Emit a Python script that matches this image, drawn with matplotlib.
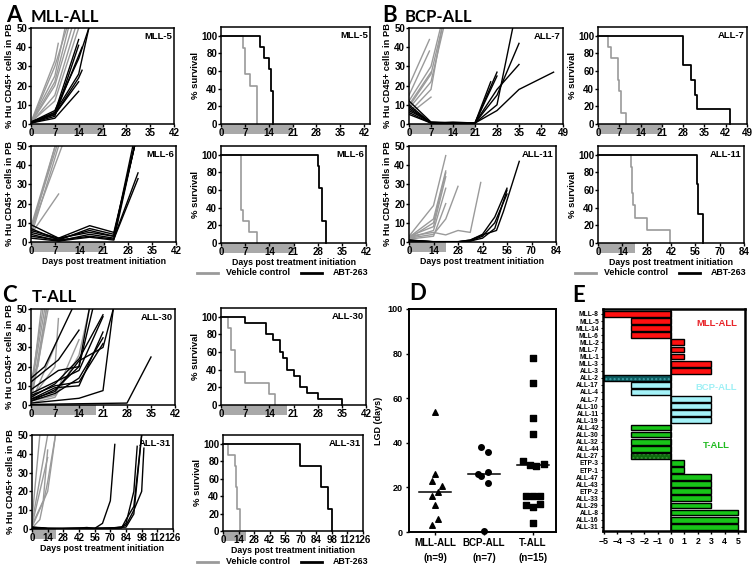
import matplotlib
matplotlib.use("Agg")
import matplotlib.pyplot as plt
import matplotlib.transforms as mtransforms
from matplotlib.lines import Line2D
from matplotlib.patches import Rectangle

W, H = 754, 570
GRAY = "#9a9a9a"
BAND = "#a9a9a9"

# ---------------- growth curves (% Hu CD45+ in PB), (days, values) ----------------
MLL5_VEH = [([0, 7, 10], [1, 25, 50]), ([0, 7, 10.5], [0.5, 30, 50]), ([0, 7, 8], [1, 33, 42]),
            ([0, 7, 12], [0.5, 20, 50]), ([0, 7, 13], [0.5, 15, 50]), ([0, 7, 14], [1, 12, 50]),
            ([0, 7, 11], [0.5, 22, 50])]
MLL5_ABT = [([0, 7, 14], [0.5, 3, 17]), ([0, 7, 14, 15], [1, 5, 24, 28]), ([0, 7, 14, 17], [0.5, 6, 26, 50]),
            ([0, 7, 14, 17], [1, 7, 34, 50]), ([0, 7, 14], [0.5, 4, 41]), ([0, 7, 14], [1, 6, 44]),
            ([0, 7, 14], [0.5, 5, 22]), ([0, 7, 15], [1, 5, 40])]
MLL6_VEH = [([0, 7], [5, 50]), ([0, 7], [8, 50]), ([0, 8], [3, 50]), ([0, 9], [6, 50]),
            ([0, 8], [4, 25]), ([0, 7.5], [7, 50])]
MLL6_ABT = [([0, 8, 17, 24, 30], [9, 2, 8.5, 5, 50]), ([0, 8, 17, 24, 30], [7, 1, 7, 4, 50]),
            ([0, 8, 17, 24, 29.5], [5, 1.5, 6, 3, 50]), ([0, 8, 17, 24, 31], [4, 0.5, 4, 2, 36]),
            ([0, 8, 17, 24, 31], [3, 1, 3, 1.5, 33]), ([0, 8, 17, 24, 30], [2, 0.5, 2.5, 1, 50]),
            ([0, 8, 17, 24, 30], [6, 2, 5, 3, 50])]
ALL7_VEH = [([0, 6.5], [20, 44]), ([0, 6.5], [15, 38]), ([0, 7, 10], [12, 30, 50]),
            ([0, 7, 10.5], [9, 26, 50]), ([0, 7, 11], [8, 22, 50]), ([0, 7], [10, 27]),
            ([0, 7, 10.5], [6, 18, 50]), ([0, 7], [5, 14])]
ALL7_ABT = [([0, 7, 14, 21, 28], [12, 1, 0.5, 0.5, 27]), ([0, 7, 14, 21, 28], [10, 0.5, 1, 0.5, 25]),
            ([0, 7, 14, 21, 28, 33], [8, 0.5, 0.5, 0.5, 10, 50]),
            ([0, 7, 14, 21, 28, 35], [7, 1, 0.5, 0.5, 15, 42]),
            ([0, 7, 14, 21, 28, 35], [6, 0.5, 0.5, 0.5, 18, 31]),
            ([0, 7, 14, 21, 28, 35, 46], [5, 0.5, 0.5, 0.5, 7, 18, 27]),
            ([0, 7, 14, 21, 26], [9, 0.5, 0.5, 0.5, 22])]
ALL11_VEH = [([0, 14, 21], [3, 19, 45]), ([0, 14, 21], [2.5, 12, 37]), ([0, 14, 21], [2, 10, 36]),
             ([0, 14, 21], [3, 8, 34]), ([0, 14, 21], [2, 6, 28]), ([0, 14, 21, 28], [2, 4, 12, 29]),
             ([0, 14, 21, 28, 35, 41], [3, 5, 3.7, 6, 5, 31]), ([0, 14, 21], [1.5, 3, 20])]
ALL11_ABT = [([0, 14, 28, 35, 42, 49, 56], [1, 0.2, 0.2, 1, 4, 13, 28]),
             ([0, 14, 28, 35, 42, 49, 56], [0.8, 0.1, 0.1, 0.5, 3, 10, 25]),
             ([0, 14, 28, 35, 43, 50, 54, 63], [1, 0.1, 0.1, 1, 4, 6, 16, 42]),
             ([0, 14, 28, 35, 42, 49, 56], [0.5, 0.1, 0.1, 0.5, 2, 7, 27])]
ALL30_VEH = [([0, 3], [5, 50]), ([0, 4], [8, 50]), ([0, 4.5], [3, 50]), ([0, 3.5], [10, 50]),
             ([0, 5], [2, 50]), ([0, 7, 8], [3, 20, 45]), ([0, 8], [1, 35]), ([0, 7, 14], [2, 5, 34]),
             ([0, 7, 14, 17], [1, 4, 26, 50]), ([0, 2, 4.5], [15, 20, 50])]
ALL30_ABT = [([0, 8, 14], [12, 23.5, 39]), ([0, 4, 12], [14, 20, 50]), ([0, 8, 14, 17], [8, 18, 20, 50]),
             ([0, 7, 14, 21], [5, 10, 12, 32]), ([0, 7, 14, 21], [3, 9, 10, 38]),
             ([0, 7, 14, 21], [4, 11, 24, 47]), ([0, 7, 14, 18], [2, 8, 20, 50]),
             ([0, 7, 14, 21, 24], [3, 7, 23, 30, 50]), ([0, 14, 21, 24], [1, 3.5, 7.5, 50]),
             ([0, 28, 35], [0.3, 1, 25]), ([0, 7, 14, 21], [6, 12, 18, 46]), ([0, 7, 14, 21], [2, 6, 14, 35])]
ALL31_VEH = [([0, 7], [5, 50]), ([0, 14], [3, 50]), ([0, 10, 14], [2, 15, 42]), ([0, 14, 21], [1, 20, 50]),
             ([0, 7, 14, 21], [0.5, 5, 25, 50]), ([0, 14], [2, 38])]
ALL31_ABT = [([0, 14, 28, 42, 49, 56, 63, 70, 74], [1, 0.5, 0.3, 0.5, 0.8, 0.3, 3, 15, 45]),
             ([0, 14, 42, 56, 70, 80, 84, 91, 94], [0.8, 0.2, 0.5, 0.5, 0.5, 1, 3, 20, 44]),
             ([0, 14, 42, 56, 70, 80, 84, 91, 98], [0.5, 0.2, 0.2, 0.2, 0.3, 0.5, 5, 12, 50]),
             ([0, 14, 42, 56, 70, 80, 84, 91, 98, 100], [0.5, 0.1, 0.3, 0.3, 0.3, 1, 2, 10, 20, 43]),
             ([0, 14, 56, 84, 91, 98], [1, 0.2, 0.2, 1, 8, 50])]

# ---------------- survival (Kaplan-Meier steps), (times, % survival) ----------------
MLL5_SURV_VEH = ([0, 6.5, 7, 8.5, 10.5], [100, 85.7, 57.1, 42.9, 0])
MLL5_SURV_ABT = ([0, 11.5, 12.5, 14, 14.8, 15.3], [100, 87.5, 75, 62.5, 37.5, 0])
MLL6_SURV_VEH = ([0, 5.7, 6.3, 8, 10.3], [100, 37.5, 25, 12.5, 0])
MLL6_SURV_ABT = ([0, 28, 28.5, 29.3, 30.4], [100, 87.5, 62.5, 25, 0])
ALL7_SURV_VEH = ([0, 3.3, 4.4, 6.6, 7.0, 7.4, 9.3], [100, 87.5, 75, 50, 37.5, 12.5, 0])
ALL7_SURV_ABT = ([0, 28, 30.5, 32, 32.5, 43.5], [100, 66.7, 50, 33.3, 16.7, 0])
ALL11_SURV_VEH = ([0, 18.7, 19.3, 19.8, 20.3, 21.5, 28, 41.3], [100, 85.7, 71.4, 57.1, 42.9, 28.6, 14.3, 0])
ALL11_SURV_ABT = ([0, 56.7, 57.3, 60.6], [100, 66.7, 33.3, 0])
ALL30_SURV_VEH = ([0, 2, 3, 4, 7, 14, 15.5], [100, 87.5, 62.5, 37.5, 25, 12.5, 0])
ALL30_SURV_ABT = ([0, 7, 13, 15, 17, 18, 19, 21, 23, 25, 28, 35],
                  [100, 93.3, 80, 73.3, 60, 53.3, 40, 33.3, 20, 13.3, 6.7, 0])
ALL31_SURV_VEH = ([0, 4.5, 10.5, 11.5, 12.5, 15], [100, 87.5, 75, 50, 25, 0])
ALL31_SURV_ABT = ([0, 69, 88.5, 94.5, 98.2], [100, 75, 50, 25, 0])

# ---------------- panel D: LGD (days) ----------------
D_CATS = ["MLL-ALL\n(n=9)", "BCP-ALL\n(n=7)", "T-ALL\n(n=15)"]
D_MLL = [54, 26, 23, 20.5, 18, 16, 12, 6, 3]
D_BCP = [38, 36, 27, 26, 25, 22, 0.5]
D_TALL = [78, 67, 51, 44, 32, 30, 29.5, 30.5, 16, 16, 16, 12, 11, 12.5, 4]
D_MEDIANS = [18, 26, 30]
D_MLL_JIT = [0, 0, -0.07, 0.14, 0.07, -0.07, 0, 0.07, -0.07]
D_BCP_JIT = [-0.07, 0.075, 0.075, -0.13, -0.07, 0.075, 0]
D_TALL_JIT = [0, 0, 0, 0, -0.2, -0.07, 0.07, 0.22, -0.14, 0, 0.15, -0.14, 0, 0.15, 0]

# ---------------- panel E: scores ----------------
E_LABELS = ["MLL-8", "MLL-5", "MLL-14", "MLL-6", "MLL-2", "MLL-7", "MLL-1", "MLL-3", "ALL-3",
            "ALL-2", "ALL-17", "ALL-4", "ALL-7", "ALL-10", "ALL-11", "ALL-19",
            "ALL-42", "ALL-30", "ALL-32", "ALL-44", "ALL-27", "ETP-3", "ETP-1", "ALL-47",
            "ALL-43", "ETP-2", "ALL-33", "ALL-29", "ALL-8", "ALL-16", "ALL-31"]
E_VALUES = [-5, -3, -3, -3, 1, 1, 1, 3, 3,
            -5, -3, -3, 3, 3, 3, 3,
            -3, -3, -3, -3, -3, 1, 1, 3, 3, 3, 3, 3, 5, 5, 5]
E_GROUPS = ["MLL"] * 9 + ["BCP"] * 7 + ["T"] * 15
E_HATCHED = ["ALL-2", "ALL-27"]

plt.rcParams["font.family"] = ["Liberation Sans", "DejaVu Sans"]
plt.rcParams["font.weight"] = "bold"
plt.rcParams["axes.labelweight"] = "bold"
plt.rcParams["hatch.linewidth"] = 1.0

fig = plt.figure(figsize=(W / 100, H / 100), dpi=100)
fig.patch.set_facecolor("white")


def add_axes(box):
    l, t, r, b = box
    return fig.add_axes([l / W, 1 - b / H, (r - l) / W, (b - t) / H])


def style(ax, xlim, ylim, xticks, yticks, band_end):
    ax.set_xlim(*xlim)
    ax.set_ylim(*ylim)
    ax.set_xticks(xticks)
    ax.set_yticks(yticks)
    for sp in ax.spines.values():
        sp.set_linewidth(1.1)
    ax.tick_params(direction="out", length=2, width=1.0, labelsize=7, pad=0.8)
    h_px = ax.get_position().height * H
    trans = mtransforms.blended_transform_factory(ax.transData, ax.transAxes)
    ax.add_patch(Rectangle((0, -10 / h_px), band_end, 10 / h_px, transform=trans,
                           facecolor=BAND, edgecolor="none", clip_on=False, zorder=0))


def growth(box, xmax, step, veh, abt, name, band_end=21, xlabel=False):
    ax = add_axes(box)
    for d, v in veh:
        ax.plot(d, v, color=GRAY, lw=1.0)
    for d, v in abt:
        ax.plot(d, v, color="black", lw=1.0)
    style(ax, (0, xmax), (0, 50), range(0, xmax + 1, step), range(0, 51, 10), band_end)
    ax.set_ylabel("% Hu CD45+ cells in PB", fontsize=6.7, labelpad=1.5)
    if xlabel:
        ax.set_xlabel("Days post treatment initiation", fontsize=6.3, labelpad=0.5)
    ax.text(0.985, 0.96, name, transform=ax.transAxes, ha="right", va="top", fontsize=6.8)
    return ax


def survival(box, xmax, step, veh, abt, name, band_end=21, xlabel=False, xlim_max=None):
    ax = add_axes(box)
    ax.step(veh[0], veh[1], where="post", color=GRAY, lw=1.2, clip_on=False)
    ax.step(abt[0], abt[1], where="post", color="black", lw=1.3, clip_on=False)
    style(ax, (0, xlim_max or xmax), (0, 110), range(0, xmax + 1, step), range(0, 101, 20), band_end)
    ax.set_ylabel("% survival", fontsize=6.8, labelpad=1)
    if xlabel:
        ax.set_xlabel("Days post treatment initiation", fontsize=6.3, labelpad=0.5)
    ax.text(0.985, 0.96, name, transform=ax.transAxes, ha="right", va="top", fontsize=6.8)
    return ax


def legend(x0, y):
    yy = 1 - y / H
    fig.add_artist(Line2D([x0 / W, (x0 + 21) / W], [yy, yy], color=GRAY, lw=2.0))
    fig.text((x0 + 29) / W, yy, "Vehicle control", va="center", fontsize=6.4)
    fig.add_artist(Line2D([(x0 + 104) / W, (x0 + 125) / W], [yy, yy], color="black", lw=2.0))
    fig.text((x0 + 136) / W, yy, "ABT-263", va="center", fontsize=6.4)


def heading(x, y, letter, title=None, tx=None):
    fig.text(x / W, 1 - y / H, letter, fontsize=16, weight="bold", family=["Lato", "DejaVu Sans"])
    if title:
        fig.text(tx / W, 1 - y / H, title, fontsize=12, weight="bold", family=["Lato", "DejaVu Sans"])


# Panel A
heading(6, 22, "A", "MLL-ALL", 31)
growth((31, 28, 174, 124), 42, 7, MLL5_VEH, MLL5_ABT, "MLL-5")
growth((31, 146, 176, 242), 42, 7, MLL6_VEH, MLL6_ABT, "MLL-6", xlabel=True)
survival((221, 27, 370, 124), 42, 7, MLL5_SURV_VEH, MLL5_SURV_ABT, "MLL-5", xlim_max=43.7)
survival((221, 146, 366, 243), 42, 7, MLL6_SURV_VEH, MLL6_SURV_ABT, "MLL-6", xlabel=True)
legend(197, 273)

# Panel B
heading(382, 22, "B", "BCP-ALL", 405)
growth((409, 28, 563, 124), 49, 7, ALL7_VEH, ALL7_ABT, "ALL-7")
growth((409, 146, 556, 242), 84, 14, ALL11_VEH, ALL11_ABT, "ALL-11", xlabel=True)
survival((598, 27, 747, 124), 49, 7, ALL7_SURV_VEH, ALL7_SURV_ABT, "ALL-7")
survival((598, 146, 744, 243), 84, 14, ALL11_SURV_VEH, ALL11_SURV_ABT, "ALL-11", xlabel=True)
legend(575, 273)

# Panel C
heading(2, 302, "C", "T-ALL", 32)
growth((31, 309, 175, 405), 42, 7, ALL30_VEH, ALL30_ABT, "ALL-30", band_end=19)
growth((32, 435, 173, 529), 126, 14, ALL31_VEH, ALL31_ABT, "ALL-31", xlabel=True)
survival((221, 308, 366, 405), 42, 7, ALL30_SURV_VEH, ALL30_SURV_ABT, "ALL-30", band_end=19)
survival((223, 435, 363, 531), 126, 14, ALL31_SURV_VEH, ALL31_SURV_ABT, "ALL-31", xlabel=True)
legend(197, 562)

# Panel D
heading(409, 300, "D")
axd = add_axes((409, 309, 556, 532))
for i, (vals, jit, mk) in enumerate([(D_MLL, D_MLL_JIT, "^"), (D_BCP, D_BCP_JIT, "o"),
                                     (D_TALL, D_TALL_JIT, "s")]):
    axd.scatter([i + j for j in jit], vals, marker=mk, s=16, color="black", zorder=3, clip_on=False)
    axd.plot([i - 0.33, i + 0.33], [D_MEDIANS[i], D_MEDIANS[i]], color="black", lw=1.1)
axd.set_xlim(-0.53, 2.47)
axd.set_ylim(0, 100)
axd.set_xticks([0, 1, 2], D_CATS)
axd.set_yticks(range(0, 101, 20))
axd.tick_params(direction="out", length=2.5, width=1.0, labelsize=6.5, pad=2)
for t in axd.get_xticklabels():
    t.set_fontsize(7)
    t.set_linespacing(1.6)
for sp in axd.spines.values():
    sp.set_linewidth(1.4)
axd.set_ylabel("LGD (days)", fontsize=6.5, labelpad=3)

# Panel E
heading(572, 302, "E")
axe = add_axes((603, 309, 745, 531))
base = {"MLL": "#ff1010", "BCP": "#a4f2f8", "T": "#18c418"}
dark = {"MLL": "#8b0000", "BCP": "#0c5b60", "T": "#0d6b0d"}
hatch_col = {"MLL": "#d03030", "BCP": "#3c9da2", "T": "#3aa03a"}
for i, (lab, val, grp) in enumerate(zip(E_LABELS, E_VALUES, E_GROUPS)):
    if lab in E_HATCHED:
        axe.barh(i, val, height=0.82, color=dark[grp], edgecolor=hatch_col[grp], hatch="....", lw=0)
        axe.barh(i, val, height=0.82, color="none", edgecolor="black", lw=1.0)
    else:
        axe.barh(i, val, height=0.82, color=base[grp], edgecolor="black", lw=1.0)
axe.axvline(0, color="black", lw=1.2)
axe.set_xlim(-5.07, 5.52)
axe.set_ylim(30.6, -0.7)
axe.set_yticks(range(len(E_LABELS)), E_LABELS)
axe.set_xticks(range(-5, 6))
axe.tick_params(axis="y", direction="out", length=1.5, width=0.8, labelsize=4.8, pad=1.5)
axe.tick_params(axis="x", direction="out", length=2.5, width=1.0, labelsize=6.3, pad=2)
for sp in axe.spines.values():
    sp.set_linewidth(1.8)
axe.text(3.4, 1.4, "MLL-ALL", color="#e8262b", fontsize=6.8, ha="center", va="center")
axe.text(3.4, 10.3, "BCP-ALL", color="#9ff0f5", fontsize=6.8, ha="center", va="center")
axe.text(3.4, 18.6, "T-ALL", color="#22bb22", fontsize=6.8, ha="center", va="center")

fig.savefig("out.png", dpi=100)
